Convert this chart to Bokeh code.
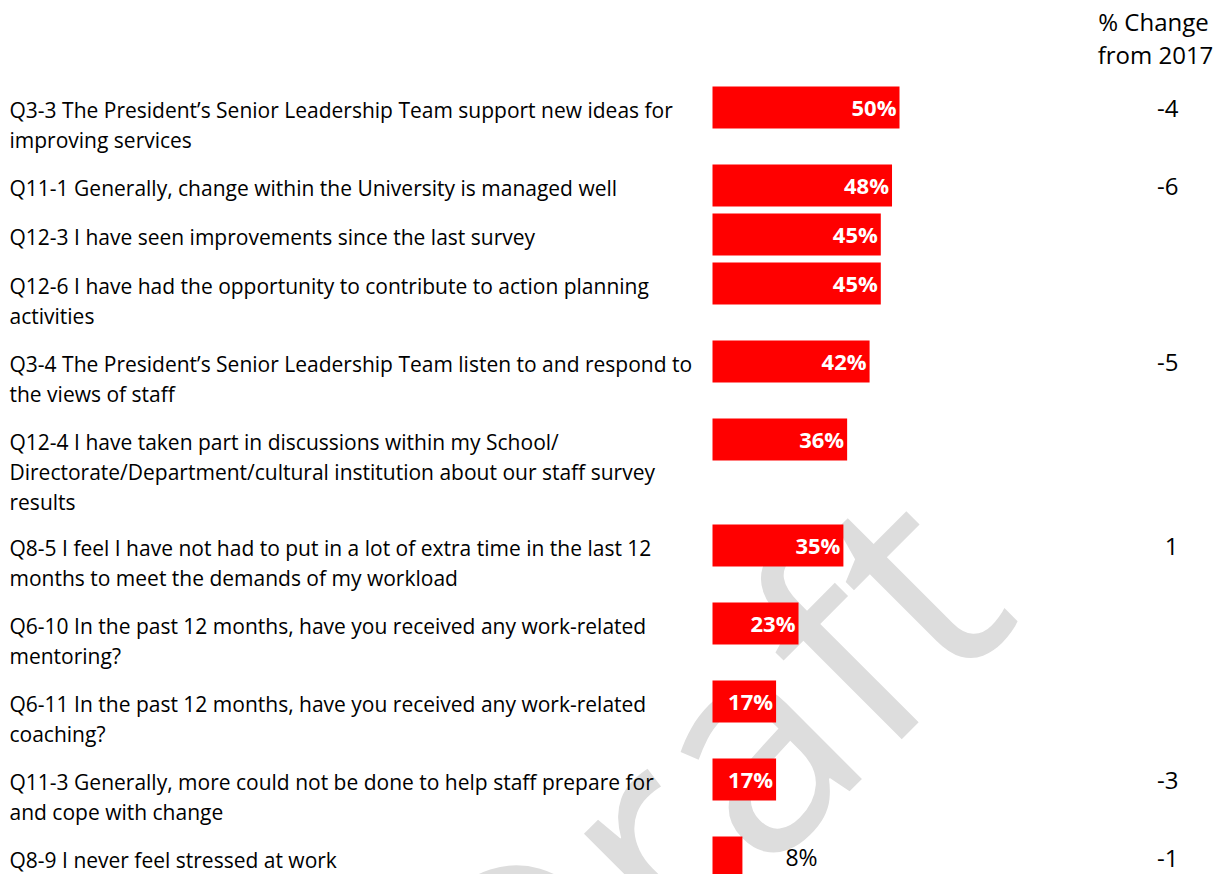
from bokeh.plotting import figure
from bokeh.models import Range1d
from bokeh.core.properties import value
from bokeh.embed import file_html
from bokeh.resources import INLINE

# Survey items (line breaks as they wrap in the label column)
questions = [
    "Q3-3 The President\u2019s Senior Leadership Team support new ideas for\nimproving services",
    "Q11-1 Generally, change within the University is managed well",
    "Q12-3 I have seen improvements since the last survey",
    "Q12-6 I have had the opportunity to contribute to action planning\nactivities",
    "Q3-4 The President\u2019s Senior Leadership Team listen to and respond to\nthe views of staff",
    "Q12-4 I have taken part in discussions within my School/\nDirectorate/Department/cultural institution about our staff survey\nresults",
    "Q8-5 I feel I have not had to put in a lot of extra time in the last 12\nmonths to meet the demands of my workload",
    "Q6-10 In the past 12 months, have you received any work-related\nmentoring?",
    "Q6-11 In the past 12 months, have you received any work-related\ncoaching?",
    "Q11-3 Generally, more could not be done to help staff prepare for\nand cope with change",
    "Q8-9 I never feel stressed at work",
]
agree_pct = [50, 48, 45, 45, 42, 36, 35, 23, 17, 17, 8]
change_from_2017 = [-4, -6, None, None, -5, None, 1, None, None, -3, -1]
change_header = ["% Change", "from 2017"]
watermark = "Draft"

# Page layout (pixels, y measured from the top)
W, H = 1228, 874
BAR_LEFT_PX = 712
PX_PER_PCT = 3.74
FIRST_TOP = 86
BAR_H = 42
ROW_H = {1: 49, 2: 78, 3: 106}
LINE_STEP = 30
FONT = "Open Sans"

p = figure(width=W, height=H, x_range=Range1d(0, W), y_range=Range1d(H, 0),
           output_backend="svg", toolbar_location=None, min_border=0,
           x_axis_location=None, y_axis_location=None)
p.grid.visible = False
p.outline_line_color = None
p.background_fill_color = "white"
p.border_fill_color = "white"
p.extra_x_ranges = {"pct": Range1d(-BAR_LEFT_PX / PX_PER_PCT,
                                   (W - BAR_LEFT_PX) / PX_PER_PCT)}

# Row centres follow the number of wrapped label lines
centers = []
top = FIRST_TOP
for q in questions:
    centers.append(top + BAR_H / 2)
    top += ROW_H[len(q.split("\n"))]

# Watermark behind everything, rotated 45 degrees
p.text(x=[942], y=[536], text=[watermark], angle=45, angle_units="deg",
       text_align="right", text_baseline="middle",
       text_font=value(FONT), text_font_size="295px", text_color="#DDDDDD")

# Bars
p.hbar(y=centers, left=0, right=agree_pct, height=BAR_H, x_range_name="pct",
       fill_color="#FF0000", line_color=None)

# Question labels, one glyph entry per wrapped line
lx, ly, lt = [], [], []
for q, c in zip(questions, centers):
    for i, line in enumerate(q.split("\n")):
        lx.append(9)
        ly.append(c + 2.5 + LINE_STEP * i)
        lt.append(line)
p.text(x=lx, y=ly, text=lt, text_align="left", text_baseline="middle",
       text_font=value(FONT), text_font_size="21px", text_color="black")

# Value labels: inside the bar end when there is room, otherwise beside it
in_x, in_y, in_t, out_x, out_y, out_t = [], [], [], [], [], []
for v, c in zip(agree_pct, centers):
    if v >= 10:
        in_x.append(v); in_y.append(c - 1); in_t.append(f"{v}%")
    else:
        out_x.append(v); out_y.append(c - 1); out_t.append(f"{v}%")
p.text(x=in_x, y=in_y, text=in_t, x_range_name="pct", x_offset=-3,
       text_align="right", text_baseline="middle", text_font=value(FONT),
       text_font_style="bold", text_font_size="22px", text_color="white")
p.text(x=out_x, y=out_y, text=out_t, x_range_name="pct", x_offset=43,
       text_align="left", text_baseline="middle", text_font=value(FONT),
       text_font_size="23px", text_color="black")

# Change column
p.text(x=[1153, 1155], y=[21, 54], text=change_header, text_align="center",
       text_baseline="middle", text_font=value(FONT),
       text_font_size="24px", text_color="black")
cx, cy, ct = [], [], []
for d, c in zip(change_from_2017, centers):
    if d is not None:
        cx.append(1178); cy.append(c + 1); ct.append(str(d))
p.text(x=cx, y=cy, text=ct, text_align="right", text_baseline="middle",
       text_font=value(FONT), text_font_size="24px", text_color="black")

open("out.html", "w").write(file_html(p, INLINE))
